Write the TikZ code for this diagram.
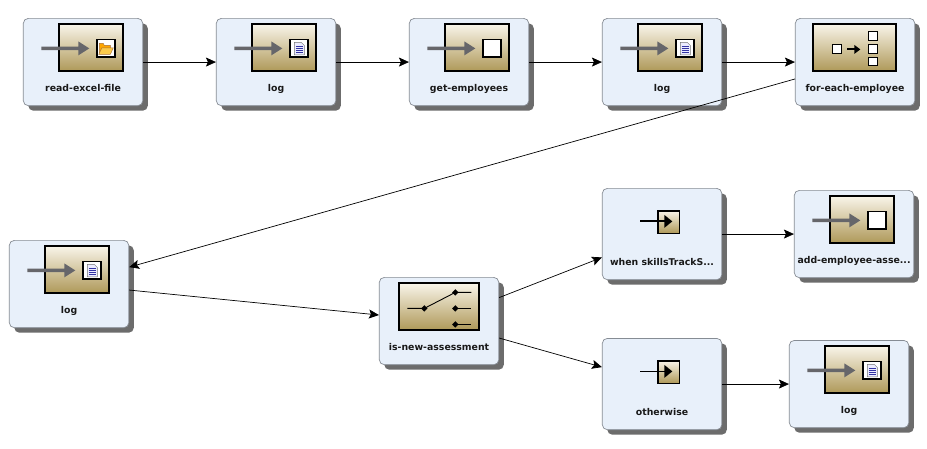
\documentclass[tikz,border=0pt]{standalone}
\usepackage{fontspec}
\setmainfont{DejaVu Sans}
\usetikzlibrary{arrows.meta,shadows}
\definecolor{nodefill}{HTML}{E8F0FA}
\definecolor{nodeline}{HTML}{868C94}
\definecolor{shadowgrey}{HTML}{6C6C6C}
\definecolor{icontop}{HTML}{F8F4E8}
\definecolor{iconbot}{HTML}{AE9858}
\definecolor{greyarrow}{HTML}{66666A}
\tikzset{
  wfnode/.style={rectangle,rounded corners=5pt,draw=nodeline,line width=0.7pt,fill=nodefill,
    minimum width=119.5pt,inner sep=0pt,
    drop shadow={shadow xshift=5pt,shadow yshift=-5pt,fill=shadowgrey,opacity=1}},
  wflabel/.style={inner sep=0pt,anchor=base,font=\fontsize{9.35pt}{10pt}\selectfont\bfseries,text=black!90},
  iconframe/.style={draw=black,line width=2pt,top color=icontop,bottom color=iconbot},
  smallbox/.style={draw=black,line width=1.6pt,fill=white},
  tinybox/.style={draw=black,line width=0.9pt,fill=white},
  flow/.style={draw=black,line width=0.7pt,-{Stealth[length=10pt,width=9pt,inset=2pt]}}
}
% name, x, y, height, label, label baseline, icon code
\newcommand{\wfbox}[7]{%
  \begin{scope}[shift={(#2,#3)}]
    \node[wfnode,minimum height=#4pt] (#1) at (59.75,#4/2) {};
    \node[wflabel] (#1-label) at (59.75,#6) {#5};
    #7
  \end{scope}}
\newcommand{\greyin}{%
  \draw[iconframe] (36,6) rectangle (100,53);
  \fill[greyarrow] (18,28.3) -- (55,28.3) -- (55,23) -- (66,30) -- (55,37) -- (55,31.7) -- (18,31.7) -- cycle;
  \draw[smallbox] (73.5,21) rectangle (91.5,38.5);}
\newcommand{\docicon}{%
  \greyin
  \fill[blue!8,draw=black!55,line width=0.4pt] (78,24) -- (85,24) -- (88,27) -- (88,36.5) -- (78,36.5) -- cycle;
  \foreach \yy in {27.5,29.5,31.5,33.5} \draw[blue!55!black!80,line width=0.7pt] (79.5,\yy) -- (86.5,\yy);}
\newcommand{\foldericon}{%
  \greyin
  \fill[orange!70!yellow,draw=brown!85!black,line width=0.4pt] (76,25) -- (80,25) -- (81,27) -- (87,27) -- (87,35) -- (76,35) -- cycle;
  \fill[yellow!45!orange!70,draw=brown!85!black,line width=0.4pt] (78.5,29.5) -- (90,29.5) -- (87,36) -- (75.5,36) -- cycle;}
\newcommand{\whenicon}{%
  \draw[draw=black,line width=1.6pt,top color=icontop,bottom color=iconbot] (55.5,22.5) rectangle (77,45);
  \draw[black,line width=1.8pt] (38,33) -- (64,33);
  \fill[black] (62,26.5) -- (70,33) -- (62,39.5) -- cycle;}
\newcommand{\eachicon}{%
  \draw[iconframe] (18,6) rectangle (101,53);
  \draw[tinybox] (37,26) rectangle (46,35);
  \draw[black,line width=1.9pt] (52,31) -- (61,31);
  \fill[black] (59,26.5) -- (65,31) -- (59,35.5) -- cycle;
  \draw[tinybox] (73,13.5) rectangle (82,22);
  \draw[tinybox] (73,26) rectangle (82,35);
  \draw[tinybox] (73,39) rectangle (82,47.5);}
\newcommand{\swdot}[2]{\fill[black] (#1-3.2,#2) -- (#1,#2-3.2) -- (#1+3.2,#2) -- (#1,#2+3.2) -- cycle;}
\newcommand{\switchicon}{%
  \draw[iconframe] (20,6) rectangle (100,53);
  \draw[black,line width=0.9pt] (28,31) -- (45,31) -- (76,15) -- (92,15);
  \draw[black,line width=0.9pt] (76,31) -- (92,31);
  \draw[black,line width=0.9pt] (76,47) -- (92,47);
  \swdot{45}{31}\swdot{76}{15}\swdot{76}{31}\swdot{76}{47}}
\begin{document}
\begin{tikzpicture}[x=1pt,y=-1pt]
\useasboundingbox (0,0) rectangle (927,449);
\fill[white] (0,0) rectangle (927,449);
\wfbox{read}{23.3}{18.4}{87.3}{read-excel-file}{73.2}{\foldericon}
\wfbox{logA}{216.3}{18.4}{87.3}{log}{73.2}{\docicon}
\wfbox{get}{409.3}{18.4}{87.3}{get-employees}{73.2}{\greyin}
\wfbox{logB}{602.3}{18.4}{87.3}{log}{73.2}{\docicon}
\wfbox{each}{795.3}{18.4}{87.3}{for-each-employee}{73.2}{\eachicon}
\wfbox{logC}{9.3}{240.4}{87.3}{log}{73.2}{\docicon}
\wfbox{switch}{379.3}{277.4}{87.3}{is-new-assessment}{73.2}{\switchicon}
\wfbox{when}{602.3}{188.4}{91.3}{when skillsTrackS...}{77.5}{\whenicon}
\wfbox{add}{794.3}{190.4}{87.3}{add-employee-asse...}{73.2}{\greyin}
\wfbox{other}{602.3}{338.4}{91.3}{otherwise}{77.5}{\whenicon}
\wfbox{logD}{789.3}{340.4}{87.3}{log}{73.2}{\docicon}
\draw[flow] (read) -- (logA);
\draw[flow] (logA) -- (get);
\draw[flow] (get) -- (logB);
\draw[flow] (logB) -- (each);
\draw[flow] (each) -- (logC);
\draw[flow] (logC) -- (switch);
\draw[flow] (switch) -- (when);
\draw[flow] (switch) -- (other);
\draw[flow] (when) -- (add);
\draw[flow] (other) -- (logD);
\end{tikzpicture}
\end{document}
